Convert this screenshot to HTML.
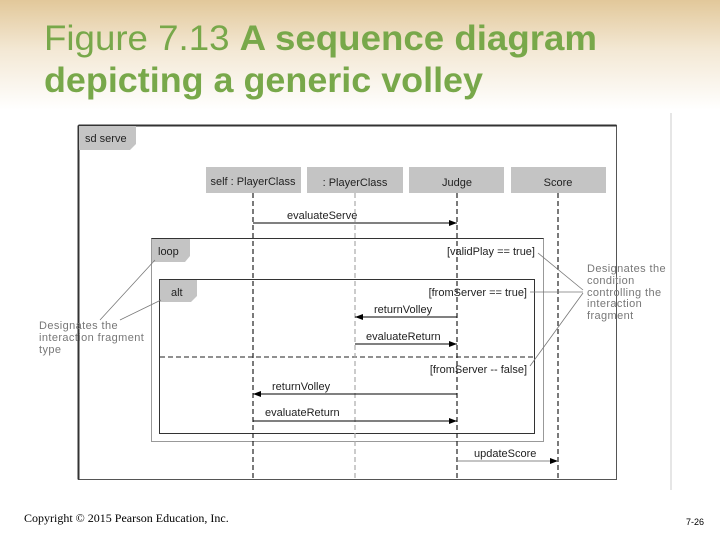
<!DOCTYPE html>
<html><head><style>
body{margin:0;width:720px;height:540px;overflow:hidden;background:#fff;font-family:"Liberation Sans",sans-serif}
</style></head><body>
<svg width="720" height="540" xmlns="http://www.w3.org/2000/svg" style="position:absolute;left:0;top:0">
<defs>
<linearGradient id="bg" x1="0" y1="0" x2="0" y2="1">
<stop offset="0" stop-color="#e2c89a"/><stop offset="0.45" stop-color="#f3e8d4"/><stop offset="1" stop-color="#ffffff"/>
</linearGradient>
<marker id="ah" markerWidth="8" markerHeight="6" refX="8" refY="3" orient="auto" markerUnits="userSpaceOnUse"><path d="M0,0 L8,3 L0,6z" fill="#000"/></marker>
</defs>
<rect x="0" y="0" width="720" height="110" fill="url(#bg)"/>
<g fill="#78a84a" font-size="35">
<text x="44" y="50" textLength="553" lengthAdjust="spacingAndGlyphs">Figure 7.13  <tspan font-weight="bold">A sequence diagram</tspan></text>
<text x="44" y="92" font-weight="bold" textLength="439" lengthAdjust="spacingAndGlyphs">depicting a generic volley</text>
</g>
<line x1="671" y1="113" x2="671" y2="490" stroke="#e6e6e6" stroke-width="2"/>
<rect x="78.5" y="125.5" width="538" height="354" fill="#fff" stroke="#555" stroke-width="1"/>
<line x1="78.5" y1="125.5" x2="78.5" y2="479.5" stroke="#333" stroke-width="2"/>
<line x1="78.5" y1="125.5" x2="616.5" y2="125.5" stroke="#333" stroke-width="2"/>
<path d="M79,126 H136 V144 L130,150 H79z" fill="#c4c4c4"/>
<g font-size="11" fill="#222">
<text x="85" y="142">sd serve</text>
</g>
<g fill="#c4c4c4"><rect x="206" y="167" width="95" height="26"/><rect x="307" y="167" width="96" height="26"/><rect x="409" y="167" width="95" height="26"/><rect x="511" y="167" width="95" height="26"/></g>
<g font-size="11" fill="#222" text-anchor="middle">
<text x="253" y="185">self : PlayerClass</text><text x="355" y="186">: PlayerClass</text><text x="457" y="186">Judge</text><text x="558" y="186">Score</text>
</g>
<rect x="151.5" y="238.5" width="392" height="203" fill="none" stroke="#999" stroke-width="1"/>
<line x1="151.5" y1="238.5" x2="543.5" y2="238.5" stroke="#333"/>
<path d="M152,239 H190 V256 L185,262 H152z" fill="#c4c4c4"/>
<rect x="159.5" y="279.5" width="375" height="154" fill="none" stroke="#333" stroke-width="1"/>
<path d="M160,280 H197 V296 L191,302 H160z" fill="#c4c4c4"/>
<line x1="160" y1="357" x2="535" y2="357" stroke="#222" stroke-dasharray="5,3"/>
<g stroke-dasharray="5,3" stroke-width="1.2">
<line x1="253" y1="193" x2="253" y2="480" stroke="#222"/>
<line x1="355" y1="193" x2="355" y2="480" stroke="#aaa"/>
<line x1="457" y1="193" x2="457" y2="480" stroke="#222"/>
<line x1="558" y1="193" x2="558" y2="480" stroke="#222"/>
</g>
<g stroke="#000" stroke-width="1" marker-end="url(#ah)">
<line x1="253" y1="223" x2="457" y2="223"/>
<line x1="457" y1="317" x2="355" y2="317"/>
<line x1="355" y1="344" x2="457" y2="344"/>
<line x1="457" y1="394" x2="253" y2="394"/>
<line x1="253" y1="421" x2="457" y2="421"/>
<line x1="457" y1="461" x2="558" y2="461" stroke="#888"/>
</g>
<g font-size="11" fill="#222">
<text x="287" y="219">evaluateServe</text>
<text x="374" y="313">returnVolley</text>
<text x="366" y="340">evaluateReturn</text>
<text x="272" y="390">returnVolley</text>
<text x="265" y="416">evaluateReturn</text>
<text x="474" y="457">updateScore</text>
<text x="158" y="255">loop</text>
<text x="171" y="296">alt</text>
<text x="535" y="255" text-anchor="end">[validPlay == true]</text>
<text x="527" y="296" text-anchor="end">[fromServer == true]</text>
<text x="527" y="373" text-anchor="end">[fromServer -- false]</text>
</g>
<g stroke="#777" stroke-width="0.8" fill="none">
<line x1="100" y1="320" x2="155" y2="260"/>
<line x1="120" y1="320" x2="161" y2="300"/>
<line x1="538" y1="253" x2="583" y2="290"/>
<line x1="530" y1="292" x2="583" y2="292"/>
<line x1="530" y1="366" x2="583" y2="293"/>
</g>
<g font-size="11" fill="#777" letter-spacing="0.4">
<text x="39" y="329">Designates the</text>
<text x="39" y="341">interaction fragment</text>
<text x="39" y="353">type</text>
<text x="587" y="272">Designates the</text>
<text x="587" y="284">condition</text>
<text x="587" y="296">controlling the</text>
<text x="587" y="307">interaction</text>
<text x="587" y="319">fragment</text>
</g>
<text x="24" y="522" font-family="Liberation Serif,serif" font-size="12" fill="#000">Copyright © 2015 Pearson Education, Inc.</text>
<text x="686" y="525" font-size="9" fill="#000">7-26</text>
</svg>
</body></html>
